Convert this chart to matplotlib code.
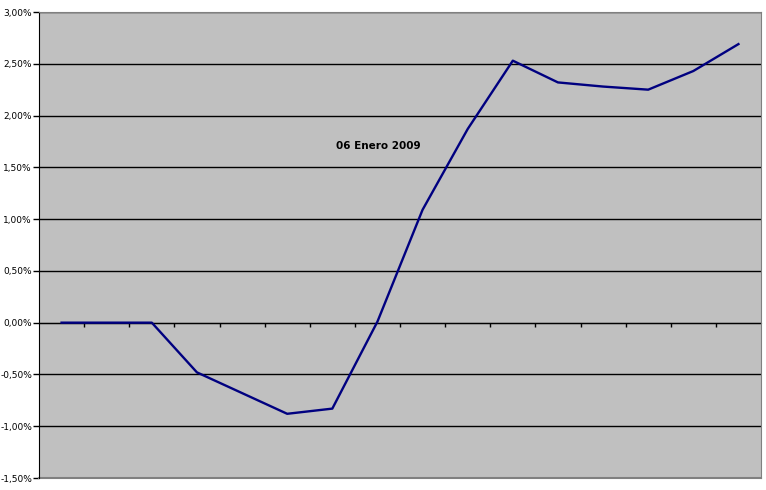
import matplotlib
matplotlib.use('Agg')
import matplotlib.pyplot as plt
import numpy as np
from matplotlib.ticker import FuncFormatter

# daily values (percent)
values = [0.00, 0.00, 0.00, -0.48, -0.68, -0.88, -0.83, 0.01,
          1.09, 1.87, 2.53, 2.32, 2.28, 2.25, 2.43, 2.69]
yticks = [-1.5, -1.0, -0.5, 0.0, 0.5, 1.0, 1.5, 2.0, 2.5, 3.0]
title = "06 Enero 2009"

x = np.arange(len(values))

fig = plt.figure(figsize=(7.66, 4.90), dpi=100)
ax = fig.add_axes([39/766, 12/490, 722/766, 466/490])
ax.set_facecolor('#C0C0C0')

ax.plot(x, values, color='#000080', lw=1.7, zorder=3)

ax.set_xlim(-0.5, len(values) - 0.5)
ax.set_ylim(-1.5, 3.0)
ax.set_yticks(yticks)
ax.yaxis.set_major_formatter(FuncFormatter(lambda v, p: f"{v:.2f}%".replace('.', ',')))
ax.tick_params(axis='y', direction='out', length=4, width=1, labelsize=6.5, pad=1)
ax.grid(axis='y', color='black', lw=1, zorder=1)

# category axis crosses at zero, ticks between categories
ax.spines['bottom'].set_position(('data', 0))
ax.spines['bottom'].set_zorder(2)
ax.set_xticks(np.arange(0.5, len(values) - 0.5, 1))
ax.set_xticklabels([])
ax.tick_params(axis='x', direction='out', length=3, width=1)

ax.spines['left'].set_color('black')
ax.spines['top'].set_color('#808080')
ax.spines['right'].set_color('#808080')
ax.axhline(-1.5, color='#808080', lw=1.5, clip_on=False, zorder=2)

ax.text(0.47, 0.713, title, transform=ax.transAxes, ha='center', va='center',
        fontsize=7.5, fontweight='bold')

fig.savefig('out.png', dpi=100)
